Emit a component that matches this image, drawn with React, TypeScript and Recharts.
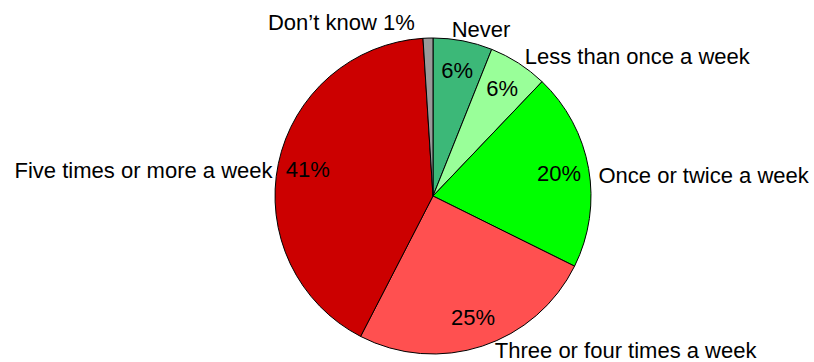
import { PieChart, Pie, Cell } from 'recharts'

const categories = [
  'Never',
  'Less than once a week',
  'Once or twice a week',
  'Three or four times a week',
  'Five times or more a week',
  'Don’t know',
]
const percentages = [6, 6, 20, 25, 41, 1]
const colors = ['#3cb878', '#99ff99', '#00ff00', '#ff5050', '#cc0000', '#999999']

const chartData = categories.map((name, i) => ({ name, value: percentages[i] }))

const RAD = Math.PI / 180
const FONT = 'Liberation Sans, Arial, sans-serif'

function renderLabel(props: any) {
  const { cx, cy, midAngle, outerRadius, index, value, name } = props
  const c = Math.cos(-midAngle * RAD)
  const s = Math.sin(-midAngle * RAD)
  const up = -s
  const small = value < 3

  // category name sits just outside the rim, percentage inside near the edge
  const nr = outerRadius + 8
  const shift = up > 0.9 ? -13 * up : up < -0.9 ? 10 : 2
  const nx = cx + nr * c + shift
  const ny = cy + nr * s + 13 * c * c - (up > 0.99 ? 8 : 4)
  const pr = outerRadius - 30
  const px = cx + pr * c
  const py = cy + pr * s

  return (
    <g key={`lbl-${index}`}>
      {!small && (
        <text x={px} y={py} textAnchor="middle" dominantBaseline="central" fill="#000" fontSize={22} fontFamily={FONT}>
          {value}%
        </text>
      )}
      <text x={nx} y={ny} textAnchor={c >= 0 ? 'start' : 'end'} dominantBaseline="central" fill="#000" fontSize={22} fontFamily={FONT}>
        {small ? `${name} ${value}%` : name}
      </text>
    </g>
  )
}

export default function App() {
  return (
    <div style={{ width: 814, height: 362, background: '#fff' }}>
      <style>{`body{margin:0}`}</style>
      <PieChart width={814} height={362} margin={{ top: 0, right: 0, bottom: 0, left: 0 }}>
        <Pie
          data={chartData}
          dataKey="value"
          nameKey="name"
          cx={433}
          cy={196}
          outerRadius={158}
          startAngle={90}
          endAngle={-270}
          stroke="#000"
          strokeWidth={1}
          label={renderLabel}
          labelLine={false}
          isAnimationActive={false}
        >
          {chartData.map((d, i) => (
            <Cell key={d.name} fill={colors[i]} />
          ))}
        </Pie>
      </PieChart>
    </div>
  )
}
